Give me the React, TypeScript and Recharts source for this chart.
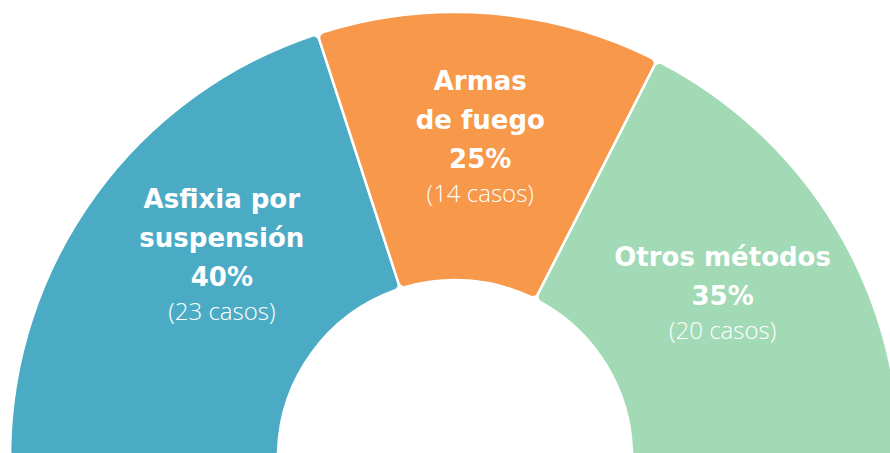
import { PieChart, Pie, Cell } from 'recharts'

// Métodos, porcentajes y número de casos
const categories = ['Asfixia por suspensión', 'Armas de fuego', 'Otros métodos']
const labelLines = [['Asfixia por', 'suspensión'], ['Armas', 'de fuego'], ['Otros métodos']]
const percentages = [40, 25, 35]
const cases = [23, 14, 20]
const colors = ['#4BABC5', '#F7984A', '#A2DAB5']

const chartData = categories.map((name, i) => ({
  name,
  value: percentages[i],
  casos: cases[i],
  lines: labelLines[i],
}))

const RADIAN = Math.PI / 180
const BOLD_FONT = '"DejaVu Sans", sans-serif'
const LIGHT_FONT = '"Open Sans", "DejaVu Sans", sans-serif'
// small angular nudge so the long left label sits where the original puts it
const labelAngleShift = [-5, 0, 0]

interface LabelProps {
  cx: number
  cy: number
  midAngle: number
  innerRadius: number
  outerRadius: number
  startAngle: number
  endAngle: number
  index: number
}

const SliceLabel = ({ cx, cy, midAngle, innerRadius, outerRadius, startAngle, endAngle, index }: LabelProps) => {
  const item = chartData[index]
  // centroid of the ring segment
  const half = (Math.abs(endAngle - startAngle) / 2) * RADIAN
  const R = outerRadius
  const r = innerRadius
  const dist = ((2 / 3) * (R ** 3 - r ** 3)) / (R ** 2 - r ** 2) * (Math.sin(half) / half)
  const angle = midAngle + (labelAngleShift[index] ?? 0)
  const x = cx + dist * Math.cos(-angle * RADIAN)
  const y = cy + dist * Math.sin(-angle * RADIAN)

  const boldStep = 39
  const lightStep = 34
  const capH = 19
  const total = item.lines.length * boldStep + lightStep
  const top = y - (total - capH) / 2

  return (
    <text x={x} y={top} textAnchor="middle" fill="#fff">
      {item.lines.map((l, i) => (
        <tspan key={l} x={x} y={top + i * boldStep} fontSize={26} fontWeight={700} fontFamily={BOLD_FONT}>
          {l}
        </tspan>
      ))}
      <tspan x={x} y={top + item.lines.length * boldStep} fontSize={26} fontWeight={700} fontFamily={BOLD_FONT}>
        {item.value}%
      </tspan>
      <tspan x={x} y={top + total} fontSize={24} fontWeight={300} fontFamily={LIGHT_FONT}>
        ({item.casos} casos)
      </tspan>
    </text>
  )
}

export default function App() {
  return (
    <div style={{ position: 'absolute', left: 0, top: 0, width: 890, height: 453, overflow: 'hidden', background: '#fff' }}>
      <PieChart width={890} height={453} margin={{ top: 0, right: 0, bottom: 0, left: 0 }}>
        <Pie
          data={chartData}
          dataKey="value"
          nameKey="name"
          cx={455}
          cy={457}
          startAngle={180}
          endAngle={0}
          innerRadius={177}
          outerRadius={445}
          cornerRadius={6}
          stroke="#fff"
          strokeWidth={2.5}
          labelLine={false}
          label={SliceLabel}
          isAnimationActive={false}
        >
          {chartData.map((d, i) => (
            <Cell key={d.name} fill={colors[i]} />
          ))}
        </Pie>
      </PieChart>
    </div>
  )
}
